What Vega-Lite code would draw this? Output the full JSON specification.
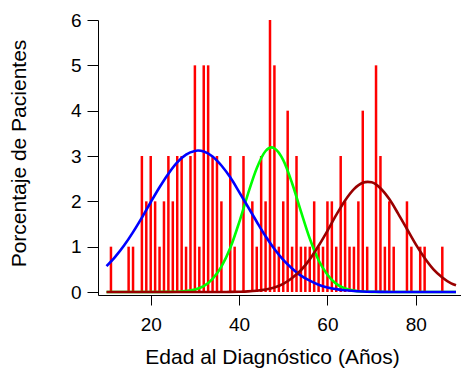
{
  "$schema": "https://vega.github.io/schema/vega-lite/v6.json",
  "autosize": {"type": "none"},
  "width": 363,
  "height": 275,
  "padding": {"left": 98, "top": 20, "right": 0, "bottom": 79},
  "background": "white",
  "config": {
    "view": {"stroke": null},
    "font": "Liberation Sans",
    "axis": {"grid": false, "domainColor": "black", "tickColor": "black", "labelColor": "black", "titleColor": "black", "labelFont": "Liberation Sans", "titleFont": "Liberation Sans", "labelFontSize": 19, "titleFontSize": 21, "titleFontWeight": "normal", "domainWidth": 1, "tickWidth": 1}
  },
  "datasets": {
    "bars": [
      {"age": 11, "pct": 1}, {"age": 15, "pct": 1}, {"age": 16, "pct": 1}, {"age": 18, "pct": 3},
      {"age": 19, "pct": 2}, {"age": 20, "pct": 3}, {"age": 21, "pct": 2}, {"age": 22, "pct": 1},
      {"age": 23, "pct": 2}, {"age": 24, "pct": 3}, {"age": 25, "pct": 2}, {"age": 26, "pct": 3},
      {"age": 27, "pct": 3}, {"age": 28, "pct": 1}, {"age": 29, "pct": 3}, {"age": 30, "pct": 5},
      {"age": 31, "pct": 1}, {"age": 32, "pct": 5}, {"age": 33, "pct": 5}, {"age": 34, "pct": 3},
      {"age": 35, "pct": 3}, {"age": 36, "pct": 2}, {"age": 38, "pct": 3}, {"age": 39, "pct": 1},
      {"age": 41, "pct": 3}, {"age": 43, "pct": 2}, {"age": 44, "pct": 1}, {"age": 45, "pct": 3},
      {"age": 46, "pct": 2}, {"age": 47, "pct": 6}, {"age": 48, "pct": 5}, {"age": 49, "pct": 1},
      {"age": 50, "pct": 2}, {"age": 51, "pct": 4}, {"age": 52, "pct": 1}, {"age": 53, "pct": 3},
      {"age": 54, "pct": 1}, {"age": 55, "pct": 1}, {"age": 56, "pct": 1}, {"age": 57, "pct": 2},
      {"age": 58, "pct": 1}, {"age": 59, "pct": 1}, {"age": 60, "pct": 2}, {"age": 61, "pct": 2},
      {"age": 62, "pct": 1}, {"age": 63, "pct": 3}, {"age": 64, "pct": 2}, {"age": 65, "pct": 1},
      {"age": 66, "pct": 1}, {"age": 67, "pct": 2}, {"age": 68, "pct": 4}, {"age": 69, "pct": 1},
      {"age": 71, "pct": 5}, {"age": 72, "pct": 3}, {"age": 73, "pct": 1}, {"age": 74, "pct": 2},
      {"age": 75, "pct": 1}, {"age": 78, "pct": 2}, {"age": 79, "pct": 1}, {"age": 81, "pct": 1},
      {"age": 82, "pct": 1}, {"age": 86, "pct": 1}
    ],
    "green": [
      {"age": 10, "v": 0}, {"age": 20, "v": 0}, {"age": 24, "v": 0.002}, {"age": 26, "v": 0.006},
      {"age": 28, "v": 0.02}, {"age": 30, "v": 0.055}, {"age": 32, "v": 0.13}, {"age": 34, "v": 0.29},
      {"age": 36, "v": 0.56}, {"age": 38, "v": 0.97}, {"age": 40, "v": 1.53}, {"age": 42, "v": 2.16},
      {"age": 44, "v": 2.73}, {"age": 46, "v": 3.11}, {"age": 47.4, "v": 3.19}, {"age": 48, "v": 3.17},
      {"age": 50, "v": 2.91}, {"age": 52, "v": 2.4}, {"age": 54, "v": 1.78}, {"age": 56, "v": 1.18},
      {"age": 58, "v": 0.7}, {"age": 60, "v": 0.38}, {"age": 62, "v": 0.18}, {"age": 64, "v": 0.078},
      {"age": 66, "v": 0.03}, {"age": 68, "v": 0.011}, {"age": 70, "v": 0.003}, {"age": 74, "v": 0},
      {"age": 89.1, "v": 0}
    ],
    "blue": [
      {"age": 10, "v": 0.57}, {"age": 12, "v": 0.78}, {"age": 14, "v": 1.03}, {"age": 16, "v": 1.32},
      {"age": 18, "v": 1.64}, {"age": 20, "v": 1.98}, {"age": 22, "v": 2.31}, {"age": 24, "v": 2.61},
      {"age": 26, "v": 2.86}, {"age": 28, "v": 3.03}, {"age": 30, "v": 3.11}, {"age": 30.7, "v": 3.12},
      {"age": 32, "v": 3.1}, {"age": 34, "v": 2.99}, {"age": 36, "v": 2.79}, {"age": 38, "v": 2.53},
      {"age": 40, "v": 2.21}, {"age": 42, "v": 1.88}, {"age": 44, "v": 1.55}, {"age": 46, "v": 1.23},
      {"age": 48, "v": 0.95}, {"age": 50, "v": 0.71}, {"age": 52, "v": 0.52}, {"age": 54, "v": 0.36},
      {"age": 56, "v": 0.25}, {"age": 58, "v": 0.16}, {"age": 60, "v": 0.1}, {"age": 62, "v": 0.064},
      {"age": 64, "v": 0.038}, {"age": 66, "v": 0.022}, {"age": 68, "v": 0.012}, {"age": 70, "v": 0.006},
      {"age": 72, "v": 0.003}, {"age": 76, "v": 0}, {"age": 89.1, "v": 0}
    ],
    "darkred": [
      {"age": 10, "v": 0}, {"age": 30, "v": 0}, {"age": 36, "v": 0.001}, {"age": 38, "v": 0.002},
      {"age": 40, "v": 0.006}, {"age": 42, "v": 0.013}, {"age": 44, "v": 0.028}, {"age": 46, "v": 0.055},
      {"age": 48, "v": 0.1}, {"age": 50, "v": 0.18}, {"age": 52, "v": 0.31}, {"age": 54, "v": 0.48},
      {"age": 56, "v": 0.72}, {"age": 58, "v": 1.02}, {"age": 60, "v": 1.35}, {"age": 62, "v": 1.7},
      {"age": 64, "v": 2.02}, {"age": 66, "v": 2.27}, {"age": 68, "v": 2.41}, {"age": 69.1, "v": 2.43},
      {"age": 70, "v": 2.42}, {"age": 72, "v": 2.29}, {"age": 74, "v": 2.05}, {"age": 76, "v": 1.73},
      {"age": 78, "v": 1.39}, {"age": 80, "v": 1.05}, {"age": 82, "v": 0.75}, {"age": 84, "v": 0.5},
      {"age": 86, "v": 0.32}, {"age": 88, "v": 0.19}, {"age": 89.1, "v": 0.147}
    ]
  },
  "layer": [
    {
      "data": {"name": "bars"},
      "mark": {"type": "bar", "size": 2.5, "color": "#FF0000", "clip": true},
      "encoding": {
        "x": {"field": "age", "type": "quantitative", "scale": {"domain": [9.2, 89.1], "nice": false, "zero": false},
              "axis": {"values": [20, 40, 60, 80], "title": "Edad al Diagnóstico (Años)", "tickSize": 10, "labelPadding": 10, "labelBaseline": "top", "titleX": 174, "titleY": 62, "titleBaseline": "middle", "titleAlign": "center"}},
        "y": {"field": "pct", "type": "quantitative", "scale": {"domain": [-0.066, 6], "nice": false, "zero": false},
              "axis": {"values": [0, 1, 2, 3, 4, 5, 6], "title": "Porcentaje de Pacientes", "tickSize": 11, "labelPadding": 6, "titleX": -79, "titleY": 133, "titleAngle": 270, "titleBaseline": "middle", "titleAlign": "center"}},
        "y2": {"datum": 0}
      }
    },
    {
      "data": {"name": "green"},
      "mark": {"type": "line", "color": "#00FF00", "strokeWidth": 2.6, "interpolate": "monotone", "clip": true},
      "encoding": {"x": {"field": "age", "type": "quantitative"}, "y": {"field": "v", "type": "quantitative"}}
    },
    {
      "data": {"name": "blue"},
      "mark": {"type": "line", "color": "#0000FF", "strokeWidth": 2.6, "interpolate": "monotone", "clip": true},
      "encoding": {"x": {"field": "age", "type": "quantitative"}, "y": {"field": "v", "type": "quantitative"}}
    },
    {
      "data": {"name": "darkred"},
      "mark": {"type": "line", "color": "#990000", "strokeWidth": 2.6, "interpolate": "monotone", "clip": true},
      "encoding": {"x": {"field": "age", "type": "quantitative"}, "y": {"field": "v", "type": "quantitative"}}
    }
  ]
}
